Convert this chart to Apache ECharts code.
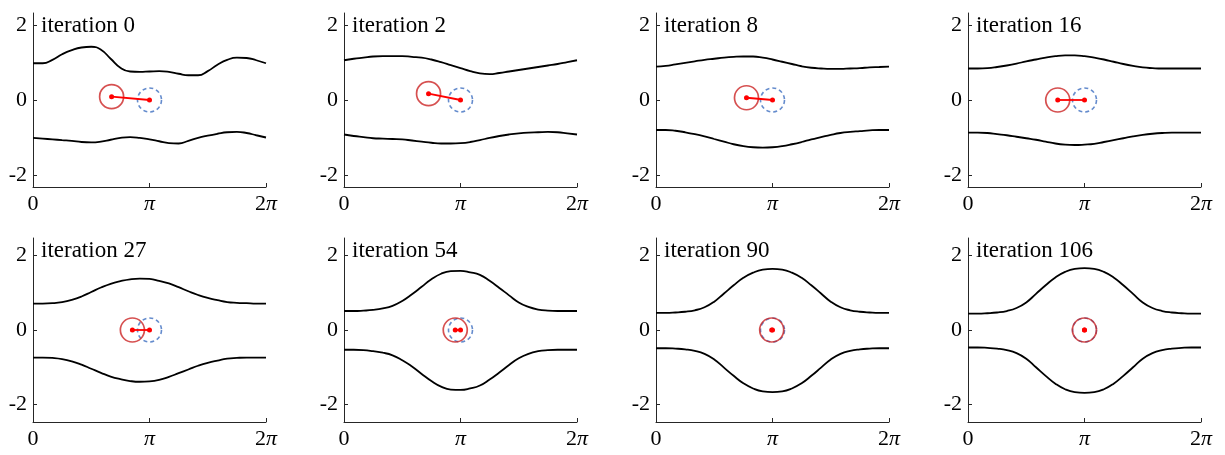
<!DOCTYPE html>
<html>
<head>
<meta charset="utf-8">
<script src="https://cdn.jsdelivr.net/npm/echarts@6/dist/echarts.min.js"></script>
<style>
  html, body { margin: 0; padding: 0; background: #fff; }
  #chart { width: 1225px; height: 455px; }
</style>
</head>
<body>
<div id="chart"></div>
<script>
const iterations = [0, 2, 8, 16, 27, 54, 90, 106];

// sample positions along the channel (0 .. 2π, step π/12)
const wallX = [0, 0.262, 0.524, 0.785, 1.047, 1.309, 1.571, 1.833, 2.094, 2.356, 2.618, 2.880,
  3.142, 3.403, 3.665, 3.927, 4.189, 4.451, 4.712, 4.974, 5.236, 5.498, 5.760, 6.021, 6.283];

// upper wall, one row per iteration
const upperWalls = [
  [0.98, 0.98, 1.07, 1.22, 1.33, 1.40, 1.42, 1.34, 1.10, 0.86, 0.76, 0.75, 0.76, 0.77, 0.75, 0.70, 0.66, 0.66, 0.77, 0.94, 1.07, 1.13, 1.12, 1.06, 0.98],
  [1.06, 1.10, 1.13, 1.16, 1.17, 1.17, 1.17, 1.15, 1.13, 1.08, 1.01, 0.93, 0.85, 0.77, 0.71, 0.69, 0.72, 0.76, 0.80, 0.84, 0.88, 0.92, 0.96, 1.01, 1.06],
  [0.89, 0.91, 0.95, 0.99, 1.03, 1.07, 1.10, 1.13, 1.15, 1.16, 1.16, 1.13, 1.08, 1.02, 0.96, 0.90, 0.86, 0.84, 0.83, 0.83, 0.84, 0.85, 0.87, 0.88, 0.89],
  [0.84, 0.84, 0.85, 0.88, 0.92, 0.97, 1.03, 1.08, 1.13, 1.17, 1.19, 1.19, 1.17, 1.13, 1.08, 1.02, 0.96, 0.91, 0.87, 0.85, 0.84, 0.84, 0.84, 0.84, 0.84],
  [0.71, 0.71, 0.72, 0.75, 0.81, 0.90, 1.02, 1.14, 1.24, 1.31, 1.36, 1.38, 1.37, 1.32, 1.25, 1.15, 1.04, 0.94, 0.86, 0.80, 0.75, 0.73, 0.72, 0.71, 0.71],
  [0.51, 0.51, 0.52, 0.54, 0.58, 0.65, 0.78, 0.96, 1.16, 1.36, 1.51, 1.58, 1.59, 1.55, 1.48, 1.32, 1.13, 0.93, 0.74, 0.62, 0.55, 0.52, 0.51, 0.51, 0.51],
  [0.46, 0.46, 0.47, 0.49, 0.53, 0.61, 0.76, 0.98, 1.20, 1.40, 1.54, 1.62, 1.64, 1.62, 1.54, 1.40, 1.20, 0.98, 0.76, 0.61, 0.53, 0.49, 0.47, 0.46, 0.46],
  [0.44, 0.44, 0.45, 0.47, 0.51, 0.59, 0.74, 0.97, 1.20, 1.41, 1.56, 1.64, 1.66, 1.64, 1.56, 1.41, 1.20, 0.97, 0.74, 0.59, 0.51, 0.47, 0.45, 0.44, 0.44]
];

// lower wall, one row per iteration
const lowerWalls = [
  [-1.01, -1.03, -1.05, -1.07, -1.09, -1.12, -1.13, -1.11, -1.06, -1.01, -0.99, -1.01, -1.05, -1.10, -1.15, -1.16, -1.09, -1.01, -0.95, -0.90, -0.86, -0.85, -0.88, -0.94, -1.00],
  [-0.92, -0.96, -0.99, -1.02, -1.03, -1.04, -1.05, -1.08, -1.11, -1.14, -1.16, -1.16, -1.15, -1.12, -1.07, -1.01, -0.96, -0.92, -0.89, -0.87, -0.86, -0.85, -0.86, -0.89, -0.92],
  [-0.80, -0.80, -0.82, -0.86, -0.91, -0.97, -1.04, -1.11, -1.18, -1.23, -1.26, -1.27, -1.26, -1.23, -1.18, -1.12, -1.05, -0.99, -0.93, -0.88, -0.85, -0.83, -0.81, -0.80, -0.80],
  [-0.87, -0.87, -0.88, -0.91, -0.94, -0.98, -1.02, -1.06, -1.11, -1.16, -1.19, -1.20, -1.19, -1.17, -1.12, -1.07, -1.02, -0.97, -0.93, -0.90, -0.88, -0.87, -0.87, -0.87, -0.87],
  [-0.74, -0.74, -0.75, -0.78, -0.84, -0.93, -1.04, -1.15, -1.25, -1.32, -1.37, -1.39, -1.38, -1.34, -1.26, -1.16, -1.06, -0.96, -0.88, -0.82, -0.77, -0.75, -0.74, -0.74, -0.74],
  [-0.53, -0.53, -0.54, -0.57, -0.61, -0.68, -0.81, -0.98, -1.18, -1.37, -1.52, -1.60, -1.61, -1.57, -1.49, -1.33, -1.14, -0.94, -0.76, -0.64, -0.57, -0.54, -0.53, -0.53, -0.53],
  [-0.49, -0.49, -0.50, -0.52, -0.56, -0.64, -0.79, -1.01, -1.23, -1.43, -1.57, -1.65, -1.67, -1.65, -1.57, -1.43, -1.23, -1.01, -0.79, -0.64, -0.56, -0.52, -0.50, -0.49, -0.49],
  [-0.47, -0.47, -0.48, -0.50, -0.54, -0.62, -0.77, -1.00, -1.23, -1.44, -1.59, -1.67, -1.69, -1.67, -1.59, -1.44, -1.23, -1.00, -0.77, -0.62, -0.54, -0.50, -0.48, -0.47, -0.47]
];

// red body centre per iteration, blue target is fixed
const bodyCenters = [[2.12, 0.09], [2.28, 0.17], [2.44, 0.06], [2.42, 0], [2.68, 0], [3.0, 0], [3.12, 0], [3.14, 0]];
const targetCenter = [3.1416, 0];

const xTicks = [0, Math.PI, 2 * Math.PI];
const yTicks = [-2, 0, 2];

const colLeft = [33, 344, 656, 968];
const rowTop = [13, 238];
const rowHeight = [174, 184];
const rowLim = [2.32, 2.47];
const serif = "Liberation Serif";

let grids = [], xAxes = [], yAxes = [], titles = [], series = [];

iterations.forEach((it, i) => {
  const row = Math.floor(i / 4), col = i % 4;
  grids.push({ left: colLeft[col], top: rowTop[row], width: 233, height: rowHeight[row] });

  xAxes.push({
    gridIndex: i, type: "value", min: 0, max: 2 * Math.PI,
    axisLine: { onZero: false, lineStyle: { color: "#262626", width: 1 } },
    axisTick: { inside: true, length: 4, customValues: xTicks, lineStyle: { color: "#262626" } },
    axisLabel: {
      customValues: xTicks, margin: 6, color: "#000",
      fontFamily: serif, fontSize: 22,
      formatter: function (v) {
        const k = Math.round(v / Math.PI);
        if (k === 0) return "0";
        if (k === 1) return "{p|π}";
        return "2{p|π}";
      },
      rich: { p: { fontFamily: serif, fontSize: 22, fontStyle: "italic", color: "#000" } }
    },
    splitLine: { show: false }
  });

  yAxes.push({
    gridIndex: i, type: "value", min: -rowLim[row], max: rowLim[row],
    axisLine: { show: true, onZero: false, lineStyle: { color: "#262626", width: 1 } },
    axisTick: { show: true, inside: true, length: 4, customValues: yTicks, lineStyle: { color: "#262626" } },
    axisLabel: {
      customValues: yTicks, margin: 6, color: "#000",
      fontFamily: serif, fontSize: 22,
      formatter: v => (v < 0 ? "-" + Math.abs(v) : String(v))
    },
    splitLine: { show: false }
  });

  titles.push({
    text: "iteration " + it,
    left: colLeft[col] + 8, top: rowTop[row] + 1, padding: 0,
    textStyle: { fontFamily: serif, fontSize: 23, fontWeight: "normal", color: "#000" }
  });

  const wall = (ys) => ({
    type: "line", xAxisIndex: i, yAxisIndex: i,
    data: wallX.map((x, k) => [x, ys[k]]),
    smooth: true, showSymbol: false,
    lineStyle: { color: "#000", width: 1.8 }
  });
  series.push(wall(upperWalls[i]));
  series.push(wall(lowerWalls[i]));

  // target (blue dashed)
  series.push({
    type: "scatter", xAxisIndex: i, yAxisIndex: i,
    data: [targetCenter], symbol: "circle", symbolSize: 24,
    itemStyle: { color: "transparent", borderColor: "#3f6fc0", borderWidth: 1.6, borderType: [4, 3] }
  });
  // body (red)
  series.push({
    type: "scatter", xAxisIndex: i, yAxisIndex: i,
    data: [bodyCenters[i]], symbol: "circle", symbolSize: 24,
    itemStyle: { color: "transparent", borderColor: "#cc2424", borderWidth: 1.7 }
  });
  // link body -> target
  series.push({
    type: "line", xAxisIndex: i, yAxisIndex: i,
    data: [bodyCenters[i], targetCenter],
    symbol: "circle", symbolSize: 5, showSymbol: true,
    itemStyle: { color: "#ff0000" },
    lineStyle: { color: "#ff0000", width: 1.8 }
  });
});

let chart = echarts.init(document.getElementById("chart"));
chart.setOption({
  animation: false,
  title: titles,
  grid: grids,
  xAxis: xAxes,
  yAxis: yAxes,
  series: series
});
</script>
</body>
</html>
